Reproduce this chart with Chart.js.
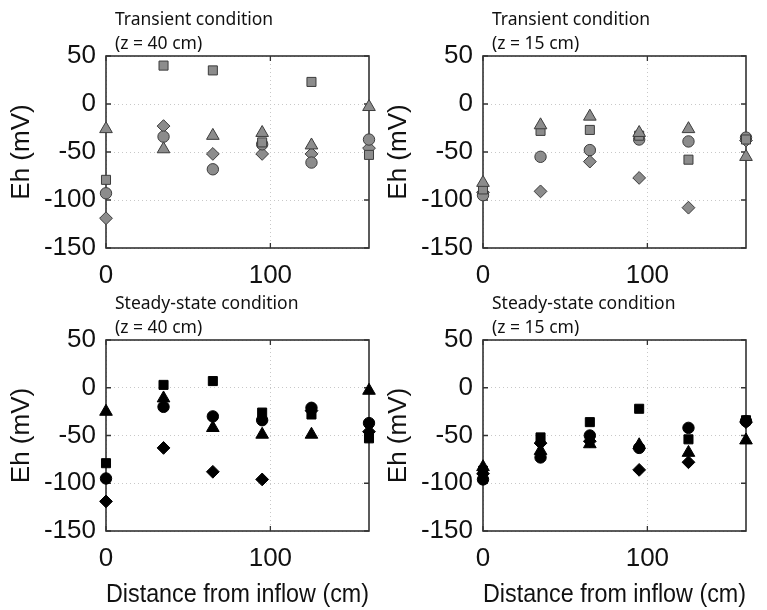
<!DOCTYPE html>
<html>
<head>
<meta charset="utf-8">
<script src="https://cdn.jsdelivr.net/npm/chart.js@4.4.1/dist/chart.umd.min.js"></script>
<style>
  body { margin: 0; background: #fff; }
  #wrap { position: relative; width: 767px; height: 610px; overflow: hidden; }
  canvas { position: absolute; }
</style>
</head>
<body>
<div id="wrap">
  <canvas id="c1" width="383" height="300" style="left:0px;top:0px"></canvas>
  <canvas id="c2" width="383" height="300" style="left:377px;top:0px"></canvas>
  <canvas id="c3" width="383" height="330" style="left:0px;top:280px"></canvas>
  <canvas id="c4" width="383" height="330" style="left:377px;top:280px"></canvas>
</div>
<script>
// distance from inflow (cm) of the sampling points
const distance = [0, 35, 65, 95, 125, 160]
const xTicks = [0, 100]
const yTicks = [50, 0, -50, -100, -150]

// transient, z = 40 cm
const trans40Tri = [-26, -47, -33, -30, -43, -3]
const trans40Sq = [-79, 40, 35, -40, 23, -53]
const trans40Circ = [-93, -34, -68, -42, -61, -37]
const trans40Dia = [-119, -23, -52, -52, -52, -46]

// transient, z = 15 cm
const trans15Tri = [-82, -22, -13, -30, -26, -55]
const trans15Sq = [-89, -28, -27, -33, -58, -37]
const trans15Circ = [-95, -55, -48, -37, -39, -35]
const trans15Dia = [-92, -91, -60, -77, -108, -38]

// steady-state, z = 40 cm
const steady40Tri = [-25, -11, -42, -49, -49, -3]
const steady40Sq = [-79, 3, 7, -26, -28, -53]
const steady40Circ = [-95, -20, -30, -34, -21, -37]
const steady40Dia = [-119, -63, -88, -96, -24, -46]

// steady-state, z = 15 cm
const steady15Tri = [-83, -66, -59, -60, -68, -55]
const steady15Sq = [-87, -52, -36, -22, -54, -34]
const steady15Circ = [-96, -73, -50, -63, -42, -35]
const steady15Dia = [-90, -58, -56, -86, -78, -36]

Chart.defaults.font.family = 'Arial, "Liberation Sans", Helvetica, sans-serif'
Chart.defaults.color = '#111'

const framePlugin = {
    id: 'frame',
    beforeDatasetsDraw(chart){
        const ctx = chart.ctx
        const a = chart.chartArea
        const x = chart.scales.x
        const y = chart.scales.y
        ctx.save()
        ctx.strokeStyle = '#333'
        ctx.lineWidth = 1.6
        ctx.strokeRect(a.left, a.top, a.right - a.left, a.bottom - a.top)
        ctx.lineWidth = 1.3
        ctx.beginPath()
        x.ticks.forEach(t => {
            const px = x.getPixelForValue(t.value)
            ctx.moveTo(px, a.top); ctx.lineTo(px, a.top + 5)
            ctx.moveTo(px, a.bottom); ctx.lineTo(px, a.bottom - 5)
        })
        y.ticks.forEach(t => {
            const py = y.getPixelForValue(t.value)
            ctx.moveTo(a.left, py); ctx.lineTo(a.left + 5, py)
            ctx.moveTo(a.right, py); ctx.lineTo(a.right - 5, py)
        })
        ctx.stroke()
        ctx.restore()
    },
    afterDraw(chart){
        const lines = chart.options.plugins.frame.lines
        const ctx = chart.ctx
        const a = chart.chartArea
        ctx.save()
        ctx.fillStyle = '#111'
        ctx.font = '17.5px "Noto Sans", "Open Sans", sans-serif'
        ctx.textAlign = 'left'
        ctx.textBaseline = 'alphabetic'
        ctx.fillText(lines[0], a.left + 9, a.top - 31)
        ctx.fillText(lines[1], a.left + 9, a.top - 7)
        ctx.restore()
    }
}

function makeSet(data, style, radius, fill, edge){
    return {
        data: distance.map((d, i) => ({x: d, y: data[i]})),
        pointStyle: style,
        pointRadius: radius,
        pointHoverRadius: radius,
        backgroundColor: fill,
        borderColor: edge,
        borderWidth: 1,
        showLine: false
    }
}

function panel(id, lines, series, fill, edge, bottomRow){
    const [tri, sq, circ, dia] = series
    new Chart(document.getElementById(id), {
        type: 'scatter',
        data: {
            datasets: [
                makeSet(tri, 'triangle', 7.3, fill, edge),
                makeSet(sq, 'rect', 6.4, fill, edge),
                makeSet(circ, 'circle', 5.7, fill, edge),
                makeSet(dia, 'rectRot', 6.4, fill, edge)
            ]
        },
        options: {
            responsive: false,
            animation: false,
            clip: false,
            layout: { padding: { top: bottomRow ? 60 : 56, right: 14, left: 0, bottom: 0 } },
            plugins: {
                legend: { display: false },
                tooltip: { enabled: false },
                frame: { lines: lines }
            },
            scales: {
                x: {
                    type: 'linear',
                    min: 0,
                    max: 160,
                    afterBuildTicks: s => { s.ticks = xTicks.map(v => ({value: v})) },
                    afterFit: s => { s.height = bottomRow ? 79 : 52 },
                    grid: { color: '#c8c8c8', lineWidth: 1, drawTicks: false },
                    border: { display: false, dash: [1, 3] },
                    ticks: { padding: 12, font: { size: 26 }, color: '#111' },
                    title: {
                        display: bottomRow,
                        text: 'Distance from inflow (cm)',
                        font: { size: 26 },
                        color: '#111',
                        padding: { top: 0, bottom: 0 }
                    }
                },
                y: {
                    min: -150,
                    max: 50,
                    afterBuildTicks: s => { s.ticks = yTicks.map(v => ({value: v})) },
                    afterFit: s => { s.width = 106 },
                    grid: { color: '#c8c8c8', lineWidth: 1, drawTicks: false },
                    border: { display: false, dash: [1, 3] },
                    ticks: { padding: 10, font: { size: 26 }, color: '#111' },
                    title: {
                        display: true,
                        text: 'Eh (mV)',
                        font: { size: 26 },
                        color: '#111',
                        padding: { top: 6, bottom: 0 }
                    }
                }
            }
        },
        plugins: [framePlugin]
    })
}

const grey = '#8c8c8c'
const greyEdge = '#3c3c3c'
panel('c1', ['Transient condition', '(z = 40 cm)'], [trans40Tri, trans40Sq, trans40Circ, trans40Dia], grey, greyEdge, false)
panel('c2', ['Transient condition', '(z = 15 cm)'], [trans15Tri, trans15Sq, trans15Circ, trans15Dia], grey, greyEdge, false)
panel('c3', ['Steady-state condition', '(z = 40 cm)'], [steady40Tri, steady40Sq, steady40Circ, steady40Dia], '#000', '#000', true)
panel('c4', ['Steady-state condition', '(z = 15 cm)'], [steady15Tri, steady15Sq, steady15Circ, steady15Dia], '#000', '#000', true)
</script>
</body>
</html>
